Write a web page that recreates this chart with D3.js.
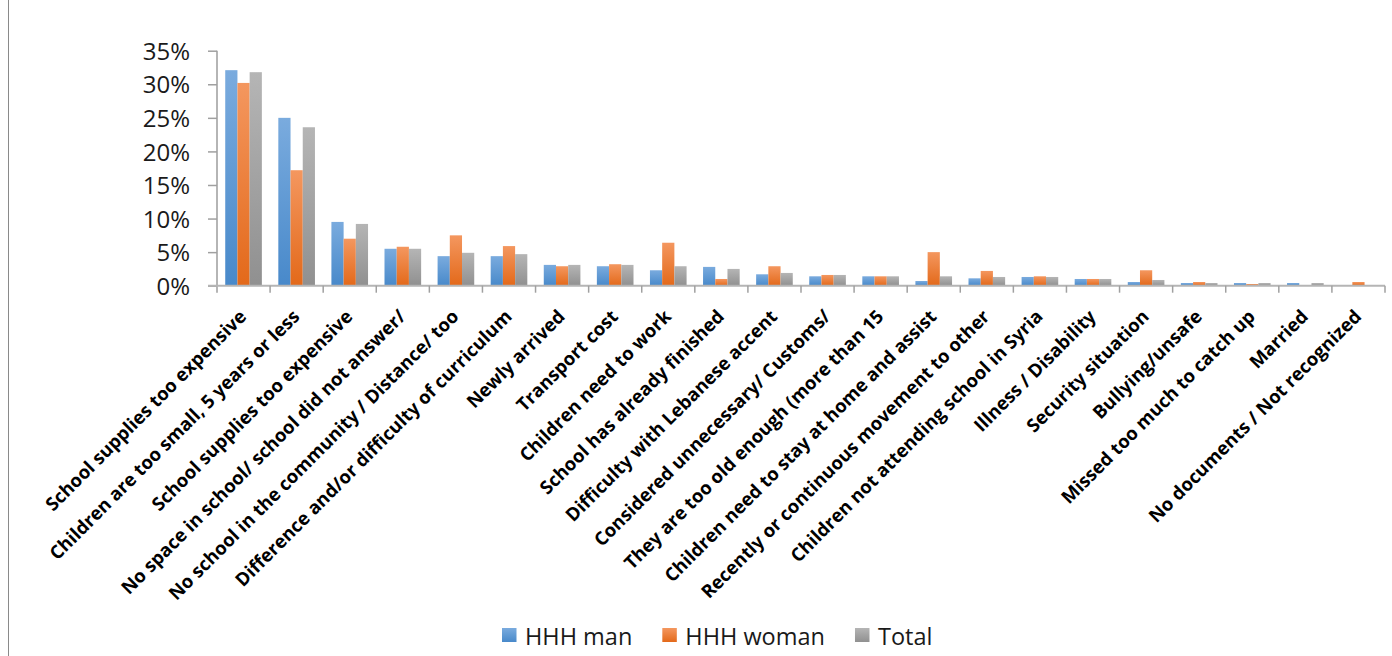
<!DOCTYPE html>
<html>
<head>
<meta charset="utf-8">
<script src="https://cdn.jsdelivr.net/npm/d3@7"></script>
<style>
  html, body { margin: 0; padding: 0; background: #fff; }
  svg { display: block; }
</style>
</head>
<body>
<svg id="chart" width="1392" height="656"></svg>
<script>
const categories = [
  "School supplies too expensive",
  "Children are too small, 5 years or less",
  "School supplies too expensive",
  "No space in school/ school did not answer/",
  "No school in the community / Distance/ too",
  "Difference and/or difficulty of curriculum",
  "Newly arrived",
  "Transport cost",
  "Children need to work",
  "School has already finished",
  "Difficulty with Lebanese accent",
  "Considered unnecessary/ Customs/",
  "They are too old enough (more than 15",
  "Children need to stay at home and assist",
  "Recently or continuous movement to other",
  "Children not attending school in Syria",
  "Illness / Disability",
  "Security situation",
  "Bullying/unsafe",
  "Missed too much to catch up",
  "Married",
  "No documents / Not recognized"
];
const seriesNames = ["HHH man", "HHH woman", "Total"];
const hhhMan   = [32.1, 25.0, 9.5, 5.5, 4.4, 4.4, 3.1, 2.9, 2.3, 2.8, 1.7, 1.4, 1.4, 0.7, 1.1, 1.3, 1.0, 0.55, 0.4, 0.4, 0.4, 0.1];
const hhhWoman = [30.2, 17.2, 7.0, 5.8, 7.5, 5.9, 2.9, 3.2, 6.4, 1.0, 2.9, 1.6, 1.4, 5.0, 2.2, 1.4, 1.0, 2.3, 0.55, 0.25, 0, 0.55];
const total    = [31.8, 23.6, 9.2, 5.5, 4.9, 4.7, 3.1, 3.1, 2.9, 2.5, 1.9, 1.6, 1.4, 1.4, 1.3, 1.3, 1.0, 0.85, 0.4, 0.4, 0.4, 0.1];
const yTicks = [0, 5, 10, 15, 20, 25, 30, 35];

const seriesValues = [hhhMan, hhhWoman, total];
const colors = [
  ["#7aabde", "#4889ca"],
  ["#f4975f", "#e3691a"],
  ["#b5b5b5", "#909090"]
];

const svg = d3.select("#chart");
const plot = { left: 217, right: 1385, top: 50.7, bottom: 285.7 };

const defs = svg.append("defs");
colors.forEach((c, i) => {
  const g = defs.append("linearGradient").attr("id", "grad" + i)
    .attr("x1", 0).attr("y1", 0).attr("x2", 0).attr("y2", 1);
  g.append("stop").attr("offset", "0%").attr("stop-color", c[0]);
  g.append("stop").attr("offset", "100%").attr("stop-color", c[1]);
});

svg.append("line").attr("x1", 8.5).attr("x2", 8.5).attr("y1", 0).attr("y2", 656)
  .attr("stroke", "#8a8a8a").attr("stroke-width", 1);

const idx = d3.range(categories.length);
const x = d3.scaleBand().domain(idx).range([plot.left, plot.right]).paddingInner(0).paddingOuter(0);
const bw = x.bandwidth();
const xs = d3.scaleBand().domain(d3.range(seriesNames.length))
  .range([bw * 0.155, bw * 0.845]).paddingInner(0).paddingOuter(0);
const y = d3.scaleLinear().domain([0, 35]).range([plot.bottom, plot.top]);

seriesValues.forEach((vals, s) => {
  svg.append("g").selectAll("rect").data(idx).join("rect")
    .attr("x", i => x(i) + xs(s))
    .attr("width", xs.bandwidth())
    .attr("y", i => y(vals[i]))
    .attr("height", i => y(0) - y(vals[i]))
    .attr("fill", "url(#grad" + s + ")");
});

const yAxis = d3.axisLeft(y).tickValues(yTicks).tickFormat(d => d + "%").tickSize(9).tickPadding(18);
const gy = svg.append("g").attr("transform", `translate(${plot.left},0)`).call(yAxis);
gy.select(".domain").attr("stroke", "#b5b5b5").attr("stroke-width", 2)
  .attr("d", `M0,${plot.top}V${plot.bottom + 7}`);
gy.selectAll(".tick line").attr("stroke", "#a0a0a0").attr("stroke-width", 1.5);
gy.selectAll(".tick text").attr("font-family", "'Open Sans', sans-serif")
  .attr("font-size", "24px").attr("fill", "#1a1a1a").attr("dy", "0.36em");

const gx = svg.append("g");
gx.append("line").attr("x1", plot.left - 9).attr("x2", plot.right)
  .attr("y1", plot.bottom).attr("y2", plot.bottom)
  .attr("stroke", "#b5b5b5").attr("stroke-width", 2);
const boundaries = idx.map(i => x(i)).concat([x(idx[idx.length - 1]) + bw]);
gx.selectAll("line.tk").data(boundaries.slice(1)).join("line").attr("class", "tk")
  .attr("x1", d => d).attr("x2", d => d)
  .attr("y1", plot.bottom).attr("y2", plot.bottom + 7)
  .attr("stroke", "#a0a0a0").attr("stroke-width", 1.5);

svg.append("g").selectAll("text").data(idx).join("text")
  .attr("transform", i => `translate(${x(i) + bw / 2 + 4},${plot.bottom + 32}) rotate(-45)`)
  .attr("text-anchor", "end")
  .attr("font-family", "'Open Sans', sans-serif")
  .attr("font-weight", 700)
  .attr("font-size", "18.5px")
  .attr("fill", "#000")
  .text(i => categories[i]);

const legend = svg.append("g");
let lx = 502;
seriesNames.forEach((name, s) => {
  legend.append("rect").attr("x", lx).attr("y", 628).attr("width", 14.5).attr("height", 14)
    .attr("fill", "url(#grad" + s + ")");
  const t = legend.append("text").attr("x", lx + 23).attr("y", 645)
    .attr("font-family", "'Open Sans', sans-serif").attr("font-size", "23.5px")
    .attr("fill", "#1a1a1a").text(name);
  lx += 23 + t.node().getComputedTextLength() + 30;
});
</script>
</body>
</html>
